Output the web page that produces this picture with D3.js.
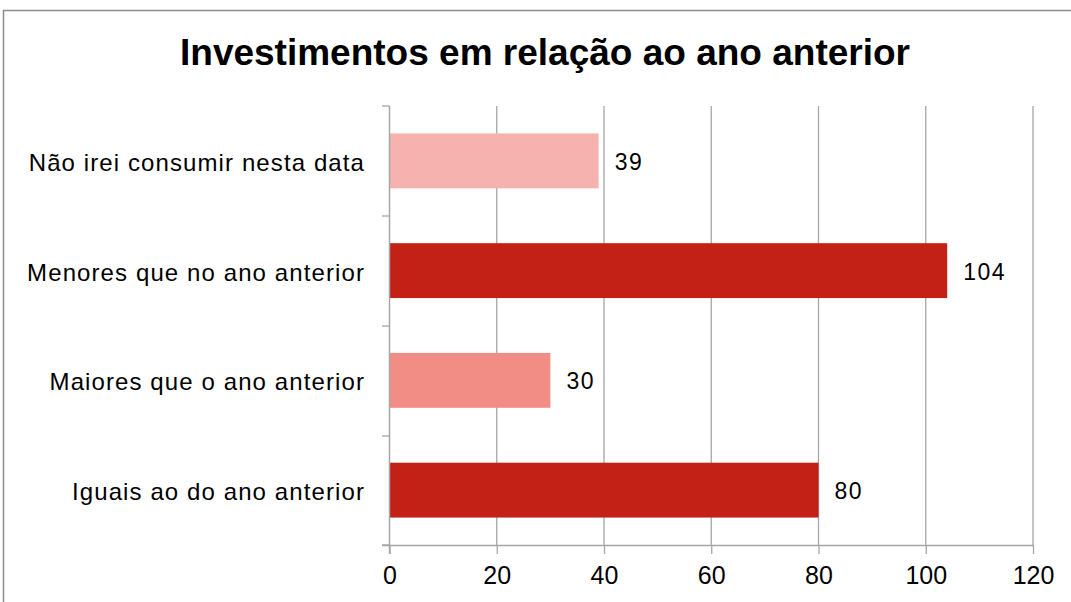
<!DOCTYPE html>
<html>
<head>
<meta charset="utf-8">
<script src="https://cdn.jsdelivr.net/npm/d3@7"></script>
<style>
  body { margin: 0; background: #fff; }
  svg { font-family: "Liberation Sans", Arial, sans-serif; }
</style>
</head>
<body>
<svg></svg>
<script>
var categories = ['Não irei consumir nesta data', 'Menores que no ano anterior', 'Maiores que o ano anterior', 'Iguais ao do ano anterior'];
var values = [39, 104, 30, 80];
var colors = ['#F5B2AE', '#C32116', '#F28D86', '#C32116'];
var ticks = [0, 20, 40, 60, 80, 100, 120];

var svg = d3.select('svg')
   .attr('width', 1071)
   .attr('height', 602)

// chart frame
svg.append('rect')
   .attr('x', 3.5).attr('y', 10.5)
   .attr('width', 1090).attr('height', 600)
   .attr('fill', 'none')
   .attr('stroke', '#8c8c8c')
   .attr('stroke-width', 1.5)

svg.append('text')
   .attr('x', 545).attr('y', 65)
   .attr('text-anchor', 'middle')
   .attr('font-size', 37)
   .attr('font-weight', 'bold')
   .text('Investimentos em relação ao ano anterior')

var x = d3.scaleLinear()
   .domain([0, 120])
   .range([389.5, 1033])

var y = d3.scaleBand()
   .domain(categories)
   .range([106, 545])
   .paddingInner(0.5)
   .paddingOuter(0.25)

// gridlines
svg.append('g')
   .selectAll('line')
   .data(ticks.slice(1))
   .enter()
   .append('line')
   .attr('x1', (d) => x(d)).attr('x2', (d) => x(d))
   .attr('y1', 106).attr('y2', 545)
   .attr('stroke', '#a6a6a6')
   .attr('stroke-width', 1.3)

svg.append('g')
   .selectAll('rect')
   .data(values)
   .enter()
   .append('rect')
   .attr('x', x(0))
   .attr('y', (d, i) => y(categories[i]))
   .attr('width', (d) => x(d) - x(0))
   .attr('height', y.bandwidth())
   .attr('fill', (d, i) => colors[i])

svg.append('g')
   .selectAll('text')
   .data(values)
   .enter()
   .append('text')
   .attr('x', (d) => x(d) + 16)
   .attr('y', (d, i) => y(categories[i]) + y.bandwidth() / 2 + 9)
   .attr('font-size', 23)
   .attr('letter-spacing', 1.5)
   .text((d) => d)

// x axis
var xAxis = svg.append('g')
   .attr('transform', 'translate(0,545)')
   .call(d3.axisBottom(x).tickValues(ticks).tickSize(9).tickPadding(12))
xAxis.select('.domain')
   .attr('d', 'M382,0.5H' + x(120))
   .attr('stroke', '#a6a6a6').attr('stroke-width', 1.5)
xAxis.selectAll('line').attr('stroke', '#a6a6a6').attr('stroke-width', 1.3)
xAxis.selectAll('text').attr('font-size', 25).attr('fill', '#000')
   .attr('font-family', '"Liberation Sans", Arial, sans-serif')

// y axis with ticks between categories
var yEdges = [106, 216, 326, 436, 545]
svg.append('line')
   .attr('x1', x(0)).attr('x2', x(0))
   .attr('y1', 106).attr('y2', 554)
   .attr('stroke', '#a6a6a6').attr('stroke-width', 1.5)
svg.append('g')
   .selectAll('line')
   .data(yEdges)
   .enter()
   .append('line')
   .attr('x1', 382).attr('x2', x(0))
   .attr('y1', (d) => d).attr('y2', (d) => d)
   .attr('stroke', '#a6a6a6').attr('stroke-width', 1.3)

svg.append('g')
   .selectAll('text')
   .data(categories)
   .enter()
   .append('text')
   .attr('x', 365)
   .attr('y', (d) => y(d) + y.bandwidth() / 2 + 10)
   .attr('text-anchor', 'end')
   .attr('font-size', 24)
   .attr('letter-spacing', 1.1)
   .text((d) => d)
</script>
</body>
</html>
